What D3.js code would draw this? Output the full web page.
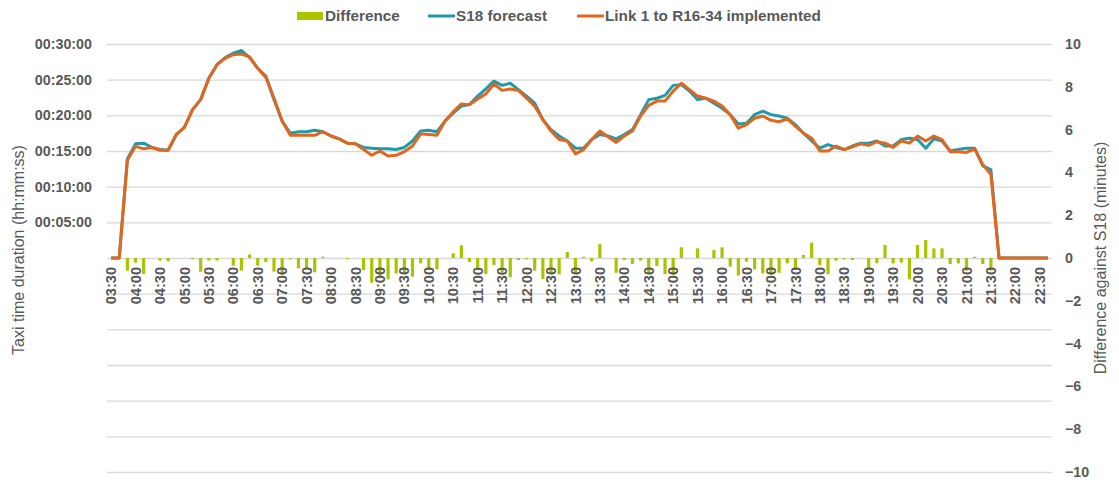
<!DOCTYPE html>
<html>
<head>
<meta charset="utf-8">
<script src="https://cdn.jsdelivr.net/npm/d3@7/dist/d3.min.js"></script>
<style>
  body { margin: 0; background: #fff; }
  svg text { font-family: "Liberation Sans", Arial, sans-serif; font-weight: bold; fill: #595959; }
  svg text.title { font-weight: normal; }
  .grid line { stroke: #d9d9d9; stroke-width: 1.3; }
  .grid path { display: none; }
</style>
</head>
<body>
<div id="chart"></div>
<script>
var W = 1119, H = 480;

// categories every 10 minutes
var times = [
  "03:30","03:40","03:50",
  "04:00","04:10","04:20","04:30","04:40","04:50",
  "05:00","05:10","05:20","05:30","05:40","05:50",
  "06:00","06:10","06:20","06:30","06:40","06:50",
  "07:00","07:10","07:20","07:30","07:40","07:50",
  "08:00","08:10","08:20","08:30","08:40","08:50",
  "09:00","09:10","09:20","09:30","09:40","09:50",
  "10:00","10:10","10:20","10:30","10:40","10:50",
  "11:00","11:10","11:20","11:30","11:40","11:50",
  "12:00","12:10","12:20","12:30","12:40","12:50",
  "13:00","13:10","13:20","13:30","13:40","13:50",
  "14:00","14:10","14:20","14:30","14:40","14:50",
  "15:00","15:10","15:20","15:30","15:40","15:50",
  "16:00","16:10","16:20","16:30","16:40","16:50",
  "17:00","17:10","17:20","17:30","17:40","17:50",
  "18:00","18:10","18:20","18:30","18:40","18:50",
  "19:00","19:10","19:20","19:30","19:40","19:50",
  "20:00","20:10","20:20","20:30","20:40","20:50",
  "21:00","21:10","21:20","21:30","21:40","21:50",
  "22:00","22:10","22:20","22:30","22:40"
];

// taxi time in minutes
var s18 = [
  0, 0, 13.9,
  16.0, 16.1, 15.5, 15.2, 15.1, 17.3,
  18.3, 20.8, 22.2, 25.2, 27.1, 28.1,
  28.7, 29.1, 28.1, 26.6, 25.5, 22.2,
  19.2, 17.5, 17.7, 17.7, 17.9, 17.7,
  17.1, 16.7, 16.1, 16.0, 15.5, 15.4,
  15.3, 15.3, 15.2, 15.5, 16.4, 17.8,
  17.9, 17.7, 19.2, 20.3, 21.3, 21.5,
  22.7, 23.7, 24.8, 24.2, 24.5, 23.6,
  22.7, 21.7, 19.4, 18.0, 17.1, 16.4,
  15.4, 15.4, 16.6, 17.3, 17.1, 16.7,
  17.3, 18.0, 20.1, 22.2, 22.4, 22.8,
  24.2, 24.3, 23.4, 22.2, 22.4, 21.7,
  21.0, 20.1, 18.8, 18.9, 20.1, 20.6,
  20.1, 19.9, 19.6, 18.7, 17.5, 16.4,
  15.4, 15.9, 15.5, 15.2, 15.7, 16.1,
  16.1, 16.4, 15.7, 15.7, 16.6, 16.8,
  16.6, 15.4, 16.7, 16.4, 15.0, 15.2,
  15.4, 15.4, 12.9, 12.4, 0, 0,
  0, 0, 0, 0, 0
];

var link1 = [
  0, 0, 13.7,
  15.65, 15.3, 15.5, 15.1, 15.1, 17.3,
  18.3, 20.8, 22.2, 25.2, 27.1, 28.0,
  28.5, 28.6, 28.2, 26.6, 25.3, 22.4,
  19.2, 17.2, 17.2, 17.2, 17.2, 17.7,
  17.1, 16.7, 16.1, 16.0, 15.2, 14.4,
  15.0, 14.3, 14.4, 14.9, 15.7, 17.4,
  17.3, 17.2, 19.2, 20.5, 21.6, 21.5,
  22.3, 23.0, 24.4, 23.5, 23.7, 23.5,
  22.4, 21.3, 19.4, 17.8, 16.6, 16.4,
  14.6, 15.2, 16.6, 17.8, 17.0, 16.2,
  17.1, 17.8, 19.9, 21.4, 22.0, 22.0,
  23.4, 24.5, 23.6, 22.7, 22.4, 22.0,
  21.3, 20.1, 18.2, 18.7, 19.6, 19.9,
  19.3, 19.1, 19.5, 18.5, 17.5, 16.8,
  15.0, 15.0, 15.7, 15.2, 15.6, 16.0,
  15.8, 16.3, 16.1, 15.5, 16.4, 16.1,
  17.1, 16.4, 17.1, 16.6, 14.9, 14.9,
  14.8, 15.3, 13.1, 11.7, 0, 0,
  0, 0, 0, 0, 0
];

// difference against S18, minutes
var diff = [
  0, 0, -0.59,
  -0.22, -0.75, 0, -0.12, -0.15, 0,
  0, -0.05, -0.64, -0.12, -0.12, 0,
  -0.36, -0.59, 0.16, -0.36, -0.19, -0.64,
  -0.79, -0.06, -0.48, -0.51, -0.67, 0.06,
  0, 0, -0.05, 0, -0.56, -1.15,
  -0.87, -1.0, -0.72, -0.72, -0.87, -0.25,
  -0.56, -0.53, 0, 0.22, 0.59, -0.19,
  -0.48, -0.75, -0.33, -0.67, -0.9, -0.09,
  -0.06, -0.59, -0.98, -0.72, -0.76, 0.28,
  -0.72, 0.06, -0.16, 0.65, 0, -0.69,
  -0.09, -0.28, -0.12, -0.75, -0.37, -0.75,
  -0.79, 0.5, 0, 0.45, 0, 0.37,
  0.5, -0.4, -0.82, -0.17, -0.53, -0.72,
  -0.79, -0.69, -0.25, -0.56, 0.14, 0.72,
  -0.33, -0.76, -0.12, -0.06, -0.09, 0,
  -0.48, -0.25, 0.61, -0.25, -0.22, -1.0,
  0.61, 0.84, 0.45, 0.45, -0.28, -0.25,
  -0.59, 0.06, -0.28, -0.59, 0, 0,
  0, 0, 0, 0, 0
];

var leftTicks = [-30, -25, -20, -15, -10, -5, 0, 5, 10, 15, 20, 25, 30];
var rightTicks = [-10, -8, -6, -4, -2, 0, 2, 4, 6, 8, 10];

var colDiff = "#a9c400", colS18 = "#1f9aac", colLink = "#e2661c";

var margin = { left: 107, right: W - 1052, top: 44, bottom: H - 472 };
var pw = W - margin.left - margin.right, ph = H - margin.top - margin.bottom;

var svg = d3.select("#chart").append("svg")
    .attr("width", W)
    .attr("height", H);

var g = svg.append("g").attr("transform", "translate(" + margin.left + "," + margin.top + ")");

var x = d3.scaleBand().domain(times).range([0, pw]).padding(0);
var yL = d3.scaleLinear().domain([-30, 30]).range([ph, 0]);
var yR = d3.scaleLinear().domain([-10, 10]).range([ph, 0]);

function cx(d) { return x(d) + x.bandwidth() / 2; }

function fmt(m) {
    var s = Math.round(m * 60);
    var hh = Math.floor(s / 3600), mm = Math.floor((s % 3600) / 60), ss = s % 60;
    return d3.format("02")(hh) + ":" + d3.format("02")(mm) + ":" + d3.format("02")(ss);
}

//GRID
g.append("g")
    .attr("class", "grid")
    .call(d3.axisLeft(yL).tickValues(leftTicks).tickSize(-pw).tickFormat(""));

//LEFT AXIS LABELS (only positive shown)
var la = g.append("g")
    .call(d3.axisLeft(yL).tickValues(leftTicks.filter(function (v) { return v > 0; }))
        .tickSize(0).tickPadding(15).tickFormat(fmt));
la.select(".domain").remove();
la.selectAll("text").style("font-size", "14.3px").style("font-family", null);

//RIGHT AXIS LABELS
var ra = g.append("g")
    .attr("transform", "translate(" + pw + ",0)")
    .call(d3.axisRight(yR).tickValues(rightTicks).tickSize(0).tickPadding(13));
ra.select(".domain").remove();
ra.selectAll("text").style("font-size", "14.3px").style("font-family", null);

//BARS
g.append("g").selectAll("rect")
    .data(times)
    .join("rect")
    .attr("x", function (d) { return cx(d) - 1.6; })
    .attr("width", 3.2)
    .attr("y", function (d, i) { return yR(Math.max(0, diff[i])); })
    .attr("height", function (d, i) { return Math.abs(yR(diff[i]) - yR(0)); })
    .attr("fill", colDiff);

//X AXIS
var xa = g.append("g")
    .attr("transform", "translate(0," + yL(0) + ")")
    .call(d3.axisBottom(x).tickValues(times.filter(function (d, i) { return i % 3 === 0; }))
        .tickSize(0));
xa.select(".domain").remove();
xa.selectAll("text")
    .style("font-size", "14.6px").style("font-family", null)
    .attr("text-anchor", "end")
    .attr("transform", "rotate(-90)")
    .attr("x", -9)
    .attr("y", 0)
    .attr("dy", "0.35em");

//LINES
var line = d3.line()
    .x(function (d, i) { return cx(times[i]); })
    .y(function (d) { return yL(d); });

g.append("path")
    .datum(s18)
    .attr("fill", "none")
    .attr("stroke", colS18)
    .attr("stroke-width", 3)
    .attr("stroke-linejoin", "round")
    .attr("d", line);

g.append("path")
    .datum(link1)
    .attr("fill", "none")
    .attr("stroke", colLink)
    .attr("stroke-width", 3)
    .attr("stroke-linejoin", "round")
    .attr("d", line);

//AXIS TITLES
svg.append("text")
    .attr("class", "title")
    .attr("transform", "translate(24," + (margin.top + yL(0) - 8) + ") rotate(-90)")
    .attr("text-anchor", "middle")
    .style("font-size", "16px")
    .text("Taxi time duration (hh:mm:ss)");

svg.append("text")
    .attr("class", "title")
    .attr("transform", "translate(1106," + (margin.top + yL(0)) + ") rotate(-90)")
    .attr("text-anchor", "middle")
    .style("font-size", "16px")
    .text("Difference against S18 (minutes)");

//LEGEND
var lg = svg.append("g").attr("transform", "translate(0,16)");
lg.append("rect").attr("x", 297).attr("y", -4).attr("width", 26).attr("height", 8).attr("fill", colDiff);
lg.append("text").attr("x", 325).attr("dy", "0.35em").style("font-size", "15.3px").text("Difference");
lg.append("line").attr("x1", 428).attr("x2", 455).attr("stroke", colS18).attr("stroke-width", 3);
lg.append("text").attr("x", 456).attr("dy", "0.35em").style("font-size", "15.3px").text("S18 forecast");
lg.append("line").attr("x1", 577).attr("x2", 604).attr("stroke", colLink).attr("stroke-width", 3);
lg.append("text").attr("x", 605).attr("dy", "0.35em").style("font-size", "15.3px").text("Link 1 to R16-34 implemented");
</script>
</body>
</html>
